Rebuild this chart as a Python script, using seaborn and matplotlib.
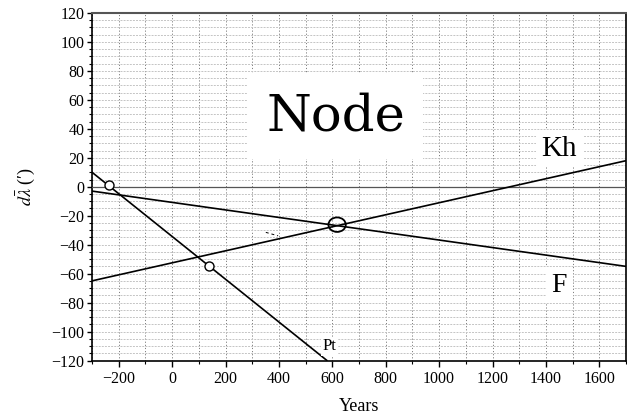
import matplotlib
matplotlib.use("Agg")
import matplotlib.pyplot as plt
from matplotlib.ticker import MultipleLocator
from matplotlib.patches import Ellipse
import seaborn as sns
import pandas as pd

# ---- data ----
years_F = [-300, 1700]
vals_F = [-3, -55]
years_Kh = [-300, 1700]
vals_Kh = [-65, 18]
years_Pt = [-300, 580]
vals_Pt = [10, -120]
marker_years = [-238, 140]
marker_vals = [0.9, -55]
hint_years = [351, 397]
hint_vals = [-31.5, -33.9]
node_year, node_val = 618, -26.2
x_ticks = [-200, 0, 200, 400, 600, 800, 1000, 1200, 1400, 1600]
y_ticks = [-120, -100, -80, -60, -40, -20, 0, 20, 40, 60, 80, 100, 120]

sns.set_theme(style="ticks")
plt.rcParams["font.family"] = ["Liberation Serif", "DejaVu Serif"]
plt.rcParams["mathtext.fontset"] = "stix"
plt.rcParams["text.color"] = "black"
plt.rcParams["axes.labelcolor"] = "black"

fig = plt.figure(figsize=(6.27, 4.19), dpi=100)
ax = fig.add_axes([92 / 627, 1 - 360.5 / 419, 534 / 627, 347.5 / 419])

df = pd.concat([
    pd.DataFrame({"year": years_F, "val": vals_F, "s": "F"}),
    pd.DataFrame({"year": years_Kh, "val": vals_Kh, "s": "Kh"}),
    pd.DataFrame({"year": years_Pt, "val": vals_Pt, "s": "Pt"}),
])
sns.lineplot(data=df, x="year", y="val", units="s", estimator=None,
             color="black", lw=1.2, ax=ax, zorder=4)
sns.lineplot(x=hint_years, y=hint_vals, color="black", lw=0.7,
             linestyle=(0, (3, 3)), ax=ax, zorder=4)
ax.plot(marker_years, marker_vals, "o", ms=6.5, mfc="white", mec="black",
        mew=1.0, zorder=5, linestyle="none")
ax.add_patch(Ellipse((node_year, node_val), 65, 10, fill=False,
                     ec="black", lw=1.3, zorder=5))

ax.axhline(0, color="#555555", lw=0.9, zorder=3)

ax.set_xlim(-300, 1700)
ax.set_ylim(-120, 120)
ax.set_xticks(x_ticks)
ax.set_yticks(y_ticks)
ax.xaxis.set_minor_locator(MultipleLocator(100))
ax.yaxis.set_minor_locator(MultipleLocator(5))

ax.grid(False)
ax.xaxis.grid(True, which="both", color="#808080", lw=0.7,
              linestyle=(0, (1.2, 2)), zorder=1)
ax.yaxis.grid(True, which="both", color="#c4c4c4", lw=0.7,
              linestyle=(0, (2, 1.2)), zorder=1)
ax.set_axisbelow(True)

ax.tick_params(axis="x", which="major", direction="out", length=4.5,
               width=1.0, labelsize=11.5, colors="black", pad=3)
ax.tick_params(axis="x", which="minor", direction="out", length=2.5,
               width=0.8, colors="black")
ax.tick_params(axis="y", which="major", direction="out", length=3.5,
               width=1.0, labelsize=11.5, colors="black", pad=2)
ax.tick_params(axis="y", which="minor", direction="out", length=2.0,
               width=0.8, colors="black")

for side in ["left", "bottom", "right"]:
    ax.spines[side].set_color("black")
    ax.spines[side].set_linewidth(1.2)
ax.spines["top"].set_color("#555555")
ax.spines["top"].set_linewidth(1.5)

ax.set_xlabel("Years", fontsize=13, labelpad=8, color="black")
ax.set_ylabel(r"$d\bar{\lambda}$ (′)", fontsize=13, labelpad=10, color="black")

ax.text(612, 48.6, "Node", fontsize=37, family=["DejaVu Serif"],
        color="black", ha="center", va="center", zorder=6,
        bbox=dict(boxstyle="square,pad=0.35", fc="white", ec="none"))
ax.text(1450, 26.4, "Kh", fontsize=21, color="black", ha="center",
        va="center", zorder=6,
        bbox=dict(boxstyle="square,pad=0.2", fc="white", ec="none"))
ax.text(1450, -68, "F", fontsize=20, color="black", ha="center",
        va="center", zorder=6,
        bbox=dict(boxstyle="square,pad=0.2", fc="white", ec="none"))
ax.text(590, -110.3, "Pt", fontsize=12, color="black", ha="center",
        va="center", zorder=6,
        bbox=dict(boxstyle="square,pad=0.1", fc="white", ec="none"))

fig.savefig("out.png", dpi=100)
